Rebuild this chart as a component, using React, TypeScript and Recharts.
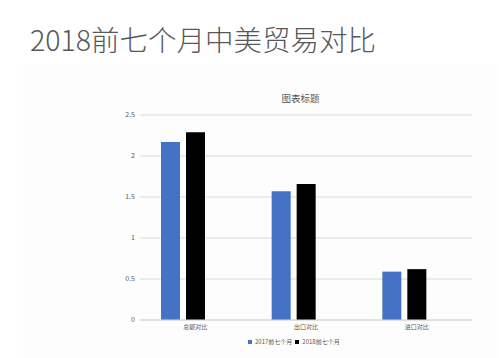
import { BarChart, Bar, XAxis, YAxis, CartesianGrid, Legend } from "recharts";

const categories = ["总额对比", "出口对比", "进口对比"];
const values2017 = [2.17, 1.57, 0.59];
const values2018 = [2.29, 1.66, 0.62];
// empty third slot so the pair sits left of the category centre, like the source
const spacer = [0, 0, 0];
const yTicks = [0, 0.5, 1, 1.5, 2, 2.5];

const data = categories.map((name, i) => ({
    name,
    y2017: values2017[i],
    y2018: values2018[i],
    pad: spacer[i]
}));

const FONT = '"Noto Sans CJK SC", "Noto Sans", sans-serif';
const TEXT = "#595959";

const LegendRow = ({ payload }: any) => (
    <div style={{ display: "flex", alignItems: "center", fontFamily: FONT, fontSize: 6, color: TEXT, lineHeight: "8px" }}>
        {(payload || [])
            .filter((p: any) => p.type !== "none")
            .map((p: any) => (
                <span key={p.value} style={{ display: "flex", alignItems: "center", marginRight: 3 }}>
                    <span style={{ width: 4, height: 4, background: p.color, marginRight: 3, display: "inline-block" }} />
                    {p.value}
                </span>
            ))}
    </div>
);

export default function App() {
    return (
        <div style={{ position: "absolute", left: 0, top: 0, width: 499, height: 358, background: "#fff", overflow: "hidden" }}>
            <div
                style={{
                    position: "absolute",
                    left: 30,
                    top: 22,
                    fontFamily: FONT,
                    fontSize: 28.5,
                    fontWeight: 300,
                    lineHeight: "34px",
                    color: "#585858",
                    whiteSpace: "nowrap"
                }}
            >
                2018前七个月中美贸易对比
            </div>
            <div style={{ position: "absolute", left: 23, top: 65, width: 474, height: 293, background: "#fdfdfd" }} />
            <div
                style={{
                    position: "absolute",
                    left: 0,
                    width: 601,
                    top: 92,
                    textAlign: "center",
                    fontFamily: FONT,
                    fontSize: 9.5,
                    lineHeight: "12px",
                    color: TEXT
                }}
            >
                图表标题
            </div>
            <div style={{ position: "absolute", left: 0, top: 0 }}>
                <BarChart
                    width={499}
                    height={358}
                    data={data}
                    margin={{ top: 115, right: 27, bottom: 18, left: 0 }}
                    barSize={19}
                    barGap={6}
                >
                    <CartesianGrid stroke="#d9d9d9" vertical={false} />
                    <XAxis
                        dataKey="name"
                        height={20}
                        tickLine={false}
                        tickSize={3}
                        tickMargin={2}
                        axisLine={{ stroke: "#d9d9d9" }}
                        tick={{ fill: TEXT, fontSize: 6, fontFamily: FONT }}
                    />
                    <YAxis
                        width={140}
                        domain={[0, 2.5]}
                        ticks={yTicks}
                        tickLine={false}
                        axisLine={false}
                        tickSize={5}
                        tickMargin={0}
                        tick={{ fill: TEXT, fontSize: 7, fontFamily: FONT }}
                    />
                    <Legend
                        layout="horizontal"
                        verticalAlign="middle"
                        content={<LegendRow />}
                        wrapperStyle={{ left: 248, top: 338, width: "auto" }}
                    />
                    <Bar dataKey="y2017" name="2017前七个月" fill="#4472c4" isAnimationActive={false} />
                    <Bar dataKey="y2018" name="2018前七个月" fill="#000000" isAnimationActive={false} />
                    <Bar dataKey="pad" fill="transparent" legendType="none" isAnimationActive={false} />
                </BarChart>
            </div>
        </div>
    );
}
